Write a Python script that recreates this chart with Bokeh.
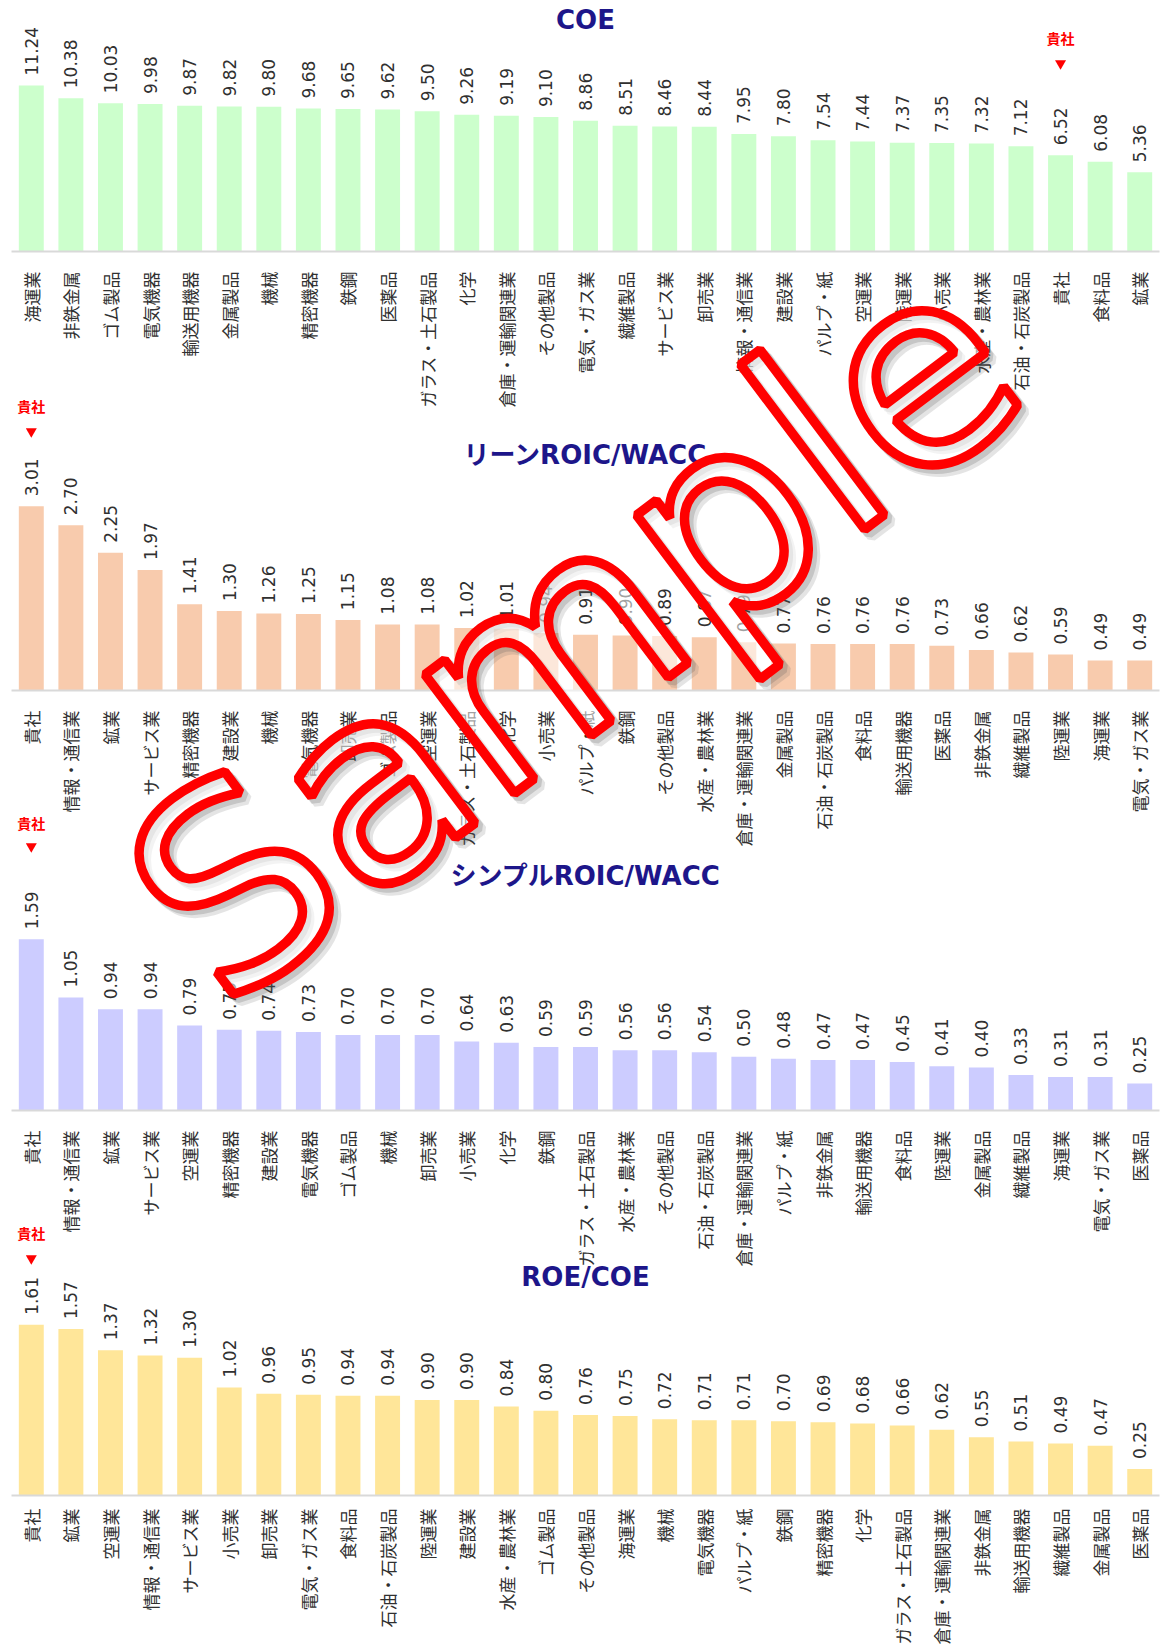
import math

from bokeh.core.properties import value
from bokeh.embed import file_html
from bokeh.models import ColumnDataSource, FactorRange, GridBox, Label, LabelSet, Range1d
from bokeh.plotting import figure
from bokeh.resources import INLINE

W, H = 1161, 1648

# ---- data -------------------------------------------------------------
coe_cats = ["海運業", "非鉄金属", "ゴム製品", "電気機器", "輸送用機器", "金属製品", "機械",
            "精密機器", "鉄鋼", "医薬品", "ガラス・土石製品", "化学", "倉庫・運輸関連業",
            "その他製品", "電気・ガス業", "繊維製品", "サービス業", "卸売業", "情報・通信業",
            "建設業", "パルプ・紙", "空運業", "陸運業", "小売業", "水産・農林業",
            "石油・石炭製品", "貴社", "食料品", "鉱業"]
coe_vals = [11.24, 10.38, 10.03, 9.98, 9.87, 9.82, 9.80, 9.68, 9.65, 9.62, 9.50, 9.26,
            9.19, 9.10, 8.86, 8.51, 8.46, 8.44, 7.95, 7.80, 7.54, 7.44, 7.37, 7.35, 7.32,
            7.12, 6.52, 6.08, 5.36]

lean_cats = ["貴社", "情報・通信業", "鉱業", "サービス業", "精密機器", "建設業", "機械",
             "電気機器", "卸売業", "ゴム製品", "空運業", "ガラス・土石製品", "化学", "小売業",
             "パルプ・紙", "鉄鋼", "その他製品", "水産・農林業", "倉庫・運輸関連業", "金属製品",
             "石油・石炭製品", "食料品", "輸送用機器", "医薬品", "非鉄金属", "繊維製品",
             "陸運業", "海運業", "電気・ガス業"]
lean_vals = [3.01, 2.70, 2.25, 1.97, 1.41, 1.30, 1.26, 1.25, 1.15, 1.08, 1.08, 1.02, 1.01,
             0.94, 0.91, 0.90, 0.89, 0.87, 0.79, 0.77, 0.76, 0.76, 0.76, 0.73, 0.66, 0.62,
             0.59, 0.49, 0.49]

simple_cats = ["貴社", "情報・通信業", "鉱業", "サービス業", "空運業", "精密機器", "建設業",
               "電気機器", "ゴム製品", "機械", "卸売業", "小売業", "化学", "鉄鋼",
               "ガラス・土石製品", "水産・農林業", "その他製品", "石油・石炭製品",
               "倉庫・運輸関連業", "パルプ・紙", "非鉄金属", "輸送用機器", "食料品", "陸運業",
               "金属製品", "繊維製品", "海運業", "電気・ガス業", "医薬品"]
simple_vals = [1.59, 1.05, 0.94, 0.94, 0.79, 0.75, 0.74, 0.73, 0.70, 0.70, 0.70, 0.64,
               0.63, 0.59, 0.59, 0.56, 0.56, 0.54, 0.50, 0.48, 0.47, 0.47, 0.45, 0.41,
               0.40, 0.33, 0.31, 0.31, 0.25]

roe_cats = ["貴社", "鉱業", "空運業", "情報・通信業", "サービス業", "小売業", "卸売業",
            "電気・ガス業", "食料品", "石油・石炭製品", "陸運業", "建設業", "水産・農林業",
            "ゴム製品", "その他製品", "海運業", "機械", "電気機器", "パルプ・紙", "鉄鋼",
            "精密機器", "化学", "ガラス・土石製品", "倉庫・運輸関連業", "非鉄金属",
            "輸送用機器", "繊維製品", "金属製品", "医薬品"]
roe_vals = [1.61, 1.57, 1.37, 1.32, 1.30, 1.02, 0.96, 0.95, 0.94, 0.94, 0.90, 0.90, 0.84,
            0.80, 0.76, 0.75, 0.72, 0.71, 0.71, 0.70, 0.69, 0.68, 0.66, 0.62, 0.55, 0.51,
            0.49, 0.47, 0.25]

OWN = "貴社"

# ---- styling ----------------------------------------------------------
TITLE_COLOR = "#1d168a"
TEXT_COLOR = "#303030"
NUM_FONT = "DejaVu Sans"
JP_FONT = "Noto Sans CJK JP"
TITLE_FONT = "DejaVu Sans, Noto Sans CJK JP"

LEFT, RIGHT = 11, 2   # side margins of every plot frame

# vertical placement of each panel on the page: (top, base line, bottom)
SPANS = [(0, 251, 421), (385, 690, 860), (800, 1110, 1280), (1210, 1495, H)]


def panel(cats, vals, color, title, span, px_per_unit, mark_y, tri_y, title_y, standoff):
    """One bar chart whose frame runs from the top of its span down to the base line."""
    top, base, bottom = span
    p = figure(x_range=FactorRange(*cats),
               y_range=Range1d(0, (base - top) / px_per_unit),
               width=W, height=bottom - top,
               min_border_left=LEFT, min_border_right=RIGHT,
               min_border_top=0, min_border_bottom=bottom - base,
               output_backend="svg", toolbar_location=None,
               y_axis_location=None,
               background_fill_color=None, border_fill_color=None,
               outline_line_color=None)
    p.grid.visible = False

    def ydata(py):
        return (base - py) / px_per_unit

    src = ColumnDataSource(dict(x=cats, top=vals, txt=[f"{v:.2f}" for v in vals]))
    p.vbar(x="x", top="top", width=0.63, source=src, fill_color=color, line_color=None)

    p.add_layout(LabelSet(x="x", y="top", text="txt", source=src,
                          angle=math.pi / 2, text_align="left", text_baseline="middle",
                          y_offset=10, text_font=value(NUM_FONT), text_font_size="17px",
                          text_color=TEXT_COLOR))

    ax = p.xaxis[0]
    ax.axis_line_color = "#d9d9d9"
    ax.axis_line_width = 2
    ax.major_tick_line_color = None
    ax.minor_tick_line_color = None
    ax.major_label_orientation = math.pi / 2
    ax.major_label_standoff = standoff
    ax.major_label_text_font = JP_FONT
    ax.major_label_text_font_size = "17px"
    ax.major_label_text_color = TEXT_COLOR

    p.add_layout(Label(x=len(cats) / 2, y=ydata(title_y), text=title,
                       text_align="center", text_baseline="middle",
                       text_font=TITLE_FONT, text_font_style="bold",
                       text_font_size="26px", text_color=TITLE_COLOR))

    # marker for the own company (category centres sit at i + 0.5)
    own_x = cats.index(OWN) + 0.5
    p.add_layout(Label(x=own_x, y=ydata(mark_y), text=OWN, text_align="center",
                       text_baseline="middle", text_font=JP_FONT,
                       text_font_style="bold", text_font_size="14px", text_color="#ff0000"))
    p.scatter(x=[OWN], y=[ydata(tri_y)], marker="inverted_triangle", size=11,
              fill_color="#ff0000", line_color=None)
    return p


p1 = panel(coe_cats, coe_vals, "#ccffcc", "COE", SPANS[0], 14.77, 37, 63, 19, 14)
p2 = panel(lean_cats, lean_vals, "#f8cbad", "リーンROIC/WACC", SPANS[1], 61.2, 405, 431, 454, 14)
p3 = panel(simple_cats, simple_vals, "#ccccff", "シンプルROIC/WACC", SPANS[2], 107.7,
           822, 846, 875, 14)
p4 = panel(roe_cats, roe_vals, "#ffe699", "ROE/COE", SPANS[3], 106.0, 1232, 1258, 1276, 7)

# ---- watermark layer (data units equal page pixels) --------------------
last_base = SPANS[-1][1]
wm = figure(x_range=Range1d(LEFT, W - RIGHT), y_range=Range1d(last_base, 0),
            width=W, height=H,
            min_border_left=LEFT, min_border_right=RIGHT,
            min_border_top=0, min_border_bottom=H - last_base,
            x_axis_location=None, y_axis_location=None,
            output_backend="svg", toolbar_location=None,
            background_fill_color=None, border_fill_color=None, outline_line_color=None)
wm.grid.visible = False

WM_X, WM_Y, WM_ANGLE, WM_SIZE = 574, 630, 37, "272px"
for dx, alpha in ((7, 0.16), (4, 0.22)):
    wm.add_layout(Label(x=WM_X + dx, y=WM_Y + dx, text="Sample", angle=WM_ANGLE,
                        angle_units="deg", text_align="center", text_baseline="alphabetic",
                        text_font="DejaVu Sans", text_font_size=WM_SIZE,
                        text_color="rgba(0,0,0,0)", text_outline_color="#555555",
                        text_alpha=alpha,
                        border_line_color="#555555", border_line_alpha=0.001,
                        border_line_width=10))
wm.add_layout(Label(x=WM_X, y=WM_Y, text="Sample", angle=WM_ANGLE, angle_units="deg",
                    text_align="center", text_baseline="alphabetic",
                    text_font="DejaVu Sans", text_font_size=WM_SIZE,
                    text_color="rgba(255,255,255,0.55)", text_outline_color="#ff0000",
                    border_line_color="#ff0000", border_line_alpha=0.001,
                    border_line_width=9.5))

# grid tracks at every panel edge so that the panels can overlap each other
edges = sorted({e for (t, _, b) in SPANS for e in (t, b)})
rows = [f"{b - a}px" for a, b in zip(edges, edges[1:])]
children = []
for p, (t, _, b) in zip((p1, p2, p3, p4), SPANS):
    r0, r1 = edges.index(t), edges.index(b)
    children.append((p, r0, 0, r1 - r0, 1))
children.append((wm, 0, 0, len(rows), 1))

page = GridBox(children=children, rows=rows, cols=[f"{W}px"])

with open("out.html", "w") as f:
    f.write(file_html(page, INLINE))
